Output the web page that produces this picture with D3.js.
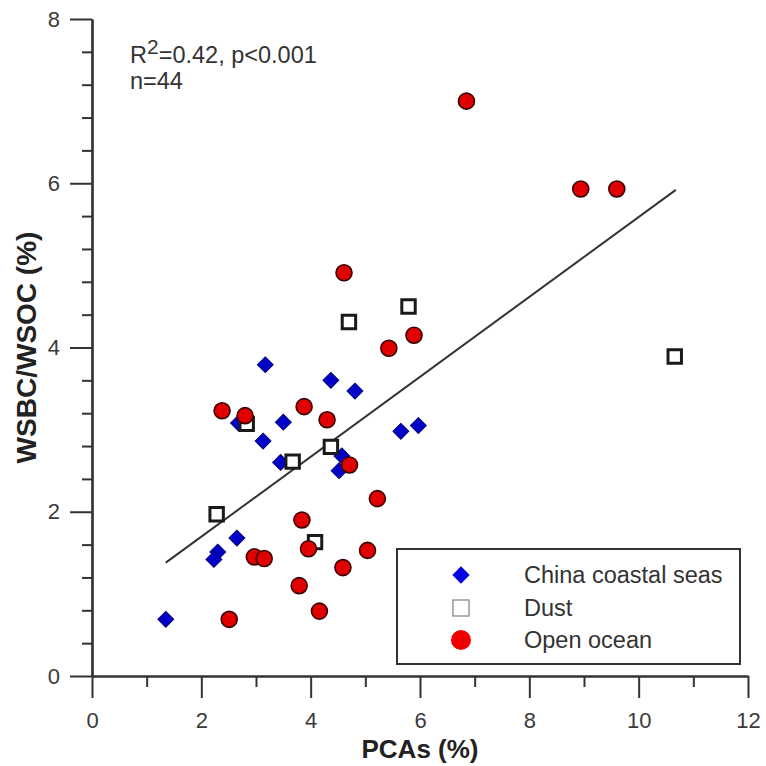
<!DOCTYPE html>
<html>
<head>
<meta charset="utf-8">
<script src="https://cdn.jsdelivr.net/npm/d3@7"></script>
<style>
  html, body { margin: 0; padding: 0; background: #fff; }
  svg { display: block; font-family: Arial, "Liberation Sans", sans-serif; }
</style>
</head>
<body>
<svg id="chart" width="766" height="766"></svg>
<script>
// ---- Data ----
const coastalX = [3.17, 4.37, 4.81, 3.50, 3.13, 2.68, 3.45, 4.57, 4.52, 5.65, 5.97, 2.65, 2.30, 2.23, 1.35];
const coastalY = [3.79, 3.60, 3.47, 3.09, 2.86, 3.08, 2.60, 2.68, 2.50, 2.98, 3.05, 1.68, 1.51, 1.42, 0.69];

const dustX = [10.66, 5.79, 4.70, 4.37, 3.67, 2.83, 2.28, 4.08];
const dustY = [3.89, 4.50, 4.31, 2.79, 2.61, 3.07, 1.97, 1.63];

const oceanX = [6.85, 8.94, 9.60, 4.61, 5.89, 5.43, 2.38, 2.80, 3.88, 4.30, 4.71, 5.22, 3.84, 3.96, 5.04, 4.59, 3.79, 4.16, 2.51, 2.97, 3.15];
const oceanY = [7.00, 5.93, 5.93, 4.91, 4.15, 3.99, 3.23, 3.17, 3.28, 3.12, 2.57, 2.16, 1.90, 1.55, 1.53, 1.32, 1.10, 0.79, 0.69, 1.45, 1.43];

// regression line endpoints
const fitX = [1.35, 10.68];
const fitY = [1.38, 5.92];

const xTicks = [0, 2, 4, 6, 8, 10, 12];
const xMinorTicks = [1, 3, 5, 7, 9, 11];
const yTicks = [0, 2, 4, 6, 8];
const yMinorTicks = [0.4, 0.8, 1.2, 1.6, 2.4, 2.8, 3.2, 3.6, 4.4, 4.8, 5.2, 5.6, 6.4, 6.8, 7.2, 7.6];

const seriesNames = ["China coastal seas", "Dust", "Open ocean"];
const statLine1 = ["R", "2", "=0.42, p<0.001"];
const statLine2 = "n=44";
const xTitle = "PCAs (%)";
const yTitle = "WSBC/WSOC (%)";

// ---- Layout ----
const svg = d3.select("#chart");
const mLeft = 92, mRight = 748, mTop = 19, mBottom = 676;
const x = d3.scaleLinear().domain([0, 12]).range([mLeft, mRight]);
const y = d3.scaleLinear().domain([0, 8]).range([mBottom, mTop]);
const axisColor = "#333";

// axes
const gx = svg.append("g").attr("transform", `translate(0,${mBottom})`);
gx.call(d3.axisBottom(x).tickValues(xTicks).tickSize(22).tickPadding(14).tickSizeOuter(0));
const gxm = svg.append("g").attr("transform", `translate(0,${mBottom})`);
gxm.call(d3.axisBottom(x).tickValues(xMinorTicks).tickSize(11).tickFormat("").tickSizeOuter(0));
const gy = svg.append("g").attr("transform", `translate(${mLeft},0)`);
gy.call(d3.axisLeft(y).tickValues(yTicks).tickSize(22).tickPadding(10).tickSizeOuter(0));
const gym = svg.append("g").attr("transform", `translate(${mLeft},0)`);
gym.call(d3.axisLeft(y).tickValues(yMinorTicks).tickSize(10).tickFormat("").tickSizeOuter(0));

[gx, gxm, gy, gym].forEach(g => {
  g.selectAll(".domain").attr("stroke", axisColor).attr("stroke-width", 2.2);
  g.selectAll(".tick line").attr("stroke", axisColor).attr("stroke-width", 2);
  g.selectAll(".tick text").attr("fill", "#3a3a3a").style("font-size", "22px")
    .style("font-family", "Arial, 'Liberation Sans', sans-serif");
});

// axis titles
svg.append("text")
  .attr("x", (mLeft + mRight) / 2).attr("y", 758)
  .attr("text-anchor", "middle")
  .style("font-size", "26px").style("font-weight", "bold").attr("fill", "#222")
  .text(xTitle);
svg.append("text")
  .attr("transform", `translate(36,${(mTop + mBottom) / 2}) rotate(-90)`)
  .attr("text-anchor", "middle")
  .style("font-size", "28px").style("font-weight", "bold").attr("fill", "#222")
  .text(yTitle);

// stats text
const t1 = svg.append("text").attr("x", 130).attr("y", 63)
  .style("font-size", "23.5px").attr("fill", "#333");
t1.append("tspan").text(statLine1[0]);
t1.append("tspan").attr("dy", -9).style("font-size", "21px").text(statLine1[1]);
t1.append("tspan").attr("dy", 9).text(statLine1[2]);
svg.append("text").attr("x", 130).attr("y", 89)
  .style("font-size", "23.5px").attr("fill", "#333").text(statLine2);

// regression line
svg.append("line")
  .attr("x1", x(fitX[0])).attr("y1", y(fitY[0]))
  .attr("x2", x(fitX[1])).attr("y2", y(fitY[1]))
  .attr("stroke", "#333").attr("stroke-width", 2);

// markers
const zip = (a, b) => a.map((v, i) => [v, b[i]]);
const diamond = d3.symbol().type(d3.symbolSquare).size(125);
const square = d3.symbol().type(d3.symbolSquare).size(180);

svg.append("g").selectAll("path.coast").data(zip(coastalX, coastalY)).join("path")
  .attr("class", "coast")
  .attr("d", diamond)
  .attr("transform", d => `translate(${x(d[0])},${y(d[1])}) rotate(45)`)
  .attr("fill", "#0000c8").attr("stroke", "#00007a").attr("stroke-width", 1);

svg.append("g").selectAll("path.dust").data(zip(dustX, dustY)).join("path")
  .attr("class", "dust")
  .attr("d", square)
  .attr("transform", d => `translate(${x(d[0])},${y(d[1])})`)
  .attr("fill", "#fff").attr("stroke", "#1a1a1a").attr("stroke-width", 3);

svg.append("g").selectAll("circle.ocean").data(zip(oceanX, oceanY)).join("circle")
  .attr("class", "ocean")
  .attr("cx", d => x(d[0])).attr("cy", d => y(d[1])).attr("r", 8)
  .attr("fill", "#e00000").attr("stroke", "#3a0000").attr("stroke-width", 1.6);

// legend
const lg = svg.append("g");
lg.append("rect").attr("x", 397).attr("y", 549).attr("width", 343).attr("height", 115)
  .attr("fill", "#fff").attr("stroke", "#333").attr("stroke-width", 2);
const rowsY = [575, 608, 640];
const symX = 461, txtX = 524;
lg.append("path").attr("d", d3.symbol().type(d3.symbolSquare).size(150))
  .attr("transform", `translate(${symX},${rowsY[0]}) rotate(45)`)
  .attr("fill", "#0000e0");
lg.append("path").attr("d", d3.symbol().type(d3.symbolSquare).size(260))
  .attr("transform", `translate(${symX},${rowsY[1]})`)
  .attr("fill", "#fff").attr("stroke", "#999").attr("stroke-width", 1.5);
lg.append("circle").attr("cx", symX).attr("cy", rowsY[2]).attr("r", 10)
  .attr("fill", "#ee0000");
seriesNames.forEach((name, i) => {
  lg.append("text").attr("x", txtX).attr("y", rowsY[i]).attr("dy", "0.36em")
    .style("font-size", "23.5px").attr("fill", "#333").text(name);
});
</script>
</body>
</html>
